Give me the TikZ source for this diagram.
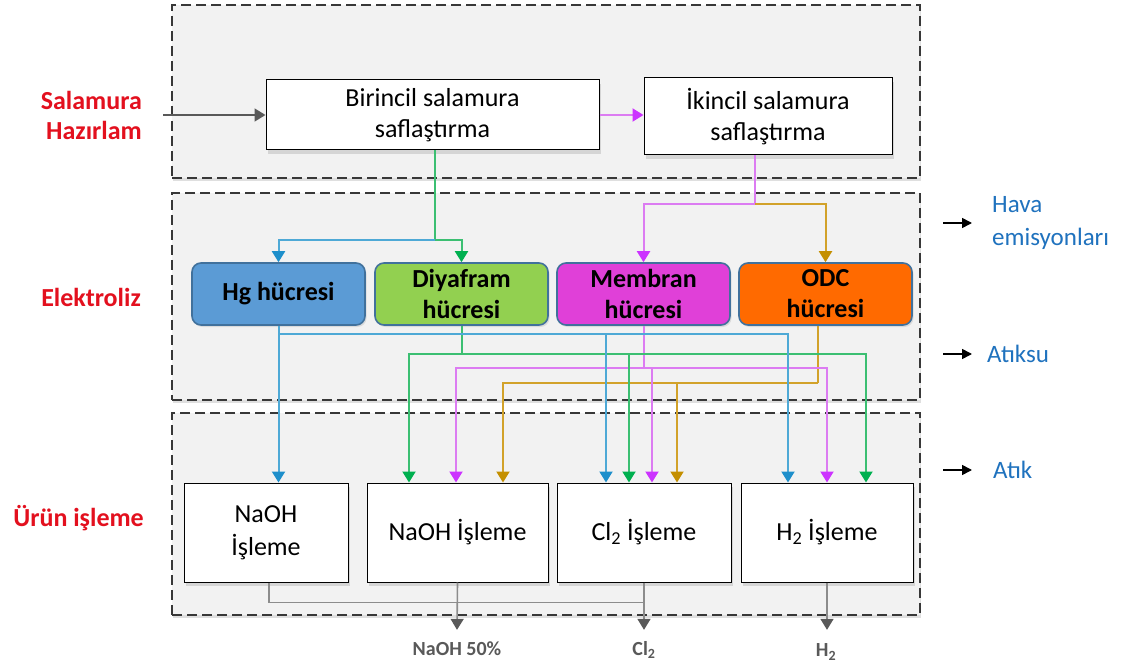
\documentclass[tikz,border=0pt]{standalone}
\usepackage{fontspec}
\setmainfont{Carlito}
\usetikzlibrary{arrows.meta,shadows,calc}
\definecolor{bandfill}{HTML}{F2F2F2}
\definecolor{bandline}{HTML}{383838}
\definecolor{cellline}{HTML}{41719C}
\definecolor{hgc}{HTML}{5B9BD5}
\definecolor{diac}{HTML}{92D050}
\definecolor{memc}{HTML}{E040D8}
\definecolor{odcc}{HTML}{FF6A00}
\definecolor{lblue}{HTML}{4EA9D6}
\definecolor{tblue}{HTML}{1E8FCB}
\definecolor{lgreen}{HTML}{3CBF72}
\definecolor{tgreen}{HTML}{00B050}
\definecolor{lmag}{HTML}{DC7CF2}
\definecolor{tmag}{HTML}{CC33FF}
\definecolor{lgold}{HTML}{D2A22A}
\definecolor{tgold}{HTML}{C48F00}
\definecolor{lgray}{HTML}{8C8C8C}
\definecolor{tgray}{HTML}{595959}
\definecolor{redlbl}{HTML}{E3101E}
\definecolor{bluelbl}{HTML}{1F72BE}
\tikzset{
  band/.style={draw=bandline, fill=bandfill, line width=2.6pt, dash pattern=on 10pt off 5pt,
    inner sep=0pt, drop shadow={opacity=0.25, shadow xshift=1pt, shadow yshift=-3pt}},
  whitebox/.style={draw=black, fill=white, line width=1pt, inner sep=0pt, align=center,
    font=\fontsize{26}{31}\selectfont,
    drop shadow={opacity=0.25, shadow xshift=2pt, shadow yshift=-4pt}},
  cell/.style={draw=cellline, line width=1.6pt, rounded corners=9pt, inner sep=0pt, align=center,
    minimum width=173pt, minimum height=62pt, font=\bfseries\fontsize{26}{31}\selectfont,
    drop shadow={opacity=0.2, shadow xshift=1.5pt, shadow yshift=-2pt}},
  redtxt/.style={text=redlbl, font=\bfseries\fontsize{26}{30}\selectfont, align=right, inner sep=0pt},
  bluetxt/.style={text=bluelbl, font=\fontsize{25}{33}\selectfont, align=left, inner sep=0pt},
  outtxt/.style={text=tgray, font=\bfseries\fontsize{20}{22}\selectfont, inner sep=0pt},
  blu/.style={draw=lblue, line width=2pt, -{Triangle[width=13pt,length=11pt,color=tblue]}},
  grn/.style={draw=lgreen, line width=2pt, -{Triangle[width=13pt,length=11pt,color=tgreen]}},
  mag/.style={draw=lmag, line width=2pt, -{Triangle[width=13pt,length=11pt,color=tmag]}},
  gld/.style={draw=lgold, line width=2pt, -{Triangle[width=13pt,length=11pt,color=tgold]}},
  gry/.style={draw=lgray, line width=1.6pt, -{Triangle[width=13pt,length=11pt,color=tgray]}},
  plain/.style={-},
  blk/.style={draw=black, line width=1.6pt, -{Triangle[width=10pt,length=10pt]}}
}
\begin{document}
\begin{tikzpicture}[x=1pt,y=-1pt]
\useasboundingbox (0,0) rectangle (1124,668);
\fill[white] (0,0) rectangle (1124,668);

% bands
\node[band, minimum width=748pt, minimum height=173pt] (band1) at (546,91.5) {};
\node[band, minimum width=748pt, minimum height=207pt] (band2) at (546,296.5) {};
\node[band, minimum width=748pt, minimum height=202pt] (band3) at (546,514) {};

% top boxes
\node[whitebox, minimum width=333pt, minimum height=70pt] (b1) at (432.5,115) {Birincil salamura\\saflaştırma};
\node[whitebox, minimum width=248pt, minimum height=77pt] (b2) at (768,116.5) {İkincil salamura\\saflaştırma};

% cells
\node[cell, fill=hgc]  (hg)  at (278.5,294) {Hg hücresi};
\node[cell, fill=diac] (dia) at (461.5,294) {Diyafram\\hücresi};
\node[cell, fill=memc] (mem) at (643.5,294) {Membran\\hücresi};
\node[cell, fill=odcc] (odc) at (825.5,294) {ODC\\hücresi};

% product boxes
\node[whitebox, minimum width=164pt, minimum height=99pt, font=\fontsize{26}{33}\selectfont] (na1) at (266,532.5) {NaOH\\İşleme};
\node[whitebox, minimum width=181pt, minimum height=99pt] (na2) at (457.5,532.5) {NaOH İşleme};
\node[whitebox, minimum width=174pt, minimum height=99pt] (cl)  at (644,532.5) {Cl\textsubscript{2} İşleme};
\node[whitebox, minimum width=172pt, minimum height=99pt] (h2)  at (827,532.5) {H\textsubscript{2} İşleme};

% left labels
\node[redtxt, anchor=east] (lab1) at (142,115) {Salamura\\Hazırlam};
\node[redtxt, anchor=east] (lab2) at (141,297) {Elektroliz};
\node[redtxt, anchor=east] (lab3) at (144,518) {Ürün işleme};

% right labels
\node[bluetxt, anchor=west] (hava) at (992,223) {Hava\\emisyonları};
\node[bluetxt, anchor=west] (atiksu) at (987,354) {Atıksu};
\node[bluetxt, anchor=west] (atik) at (993,470) {Atık};
\draw[blk] ([xshift=-49pt]hava.west) -- ([xshift=-20pt]hava.west);
\draw[blk] ([xshift=-44pt]atiksu.west) -- ([xshift=-15pt]atiksu.west);
\draw[blk] ([xshift=-50pt]atik.west) -- ([xshift=-21pt]atik.west);

% output labels
\node[outtxt] (o1) at (457,649) {NaOH 50\%};
\node[outtxt] (o2) at (644,650) {Cl\textsubscript{2}};
\node[outtxt] (o3) at (826,652) {H\textsubscript{2}};

% input arrow
\coordinate (inp) at (163,115);
\draw[gry, draw=tgray] (inp) -- (b1.west);
\draw[mag] (b1.east) -- (b1.east -| b2.west);

% feed to cells
\coordinate (j1) at ($([xshift=2.5pt]b1.south)+(0,90)$);
\draw[grn, plain] ([xshift=2.5pt]b1.south) -- (j1);
\draw[blu] (j1) -| (hg.north);
\draw[grn] (j1) -| (dia.north);
\coordinate (j2) at ($([xshift=-13pt]b2.south)+(0,49)$);
\draw[mag, plain] ([xshift=-13pt]b2.south) -- (j2);
\draw[mag] (j2) -| (mem.north);
\draw[gld] (j2) -| (odc.north);

% target points on product boxes
\coordinate (nB) at ([xshift=12.5pt]na1.north);
\coordinate (cB) at ([xshift=-38pt]cl.north);
\coordinate (hB) at ([xshift=-39pt]h2.north);
\coordinate (nG) at ([xshift=-48.5pt]na2.north);
\coordinate (cG) at ([xshift=-15pt]cl.north);
\coordinate (hG) at ([xshift=39pt]h2.north);
\coordinate (nM) at ([xshift=-1.5pt]na2.north);
\coordinate (cM) at ([xshift=8pt]cl.north);
\coordinate (hM) at (h2.north);
\coordinate (nY) at ([xshift=45.5pt]na2.north);
\coordinate (cY) at ([xshift=33pt]cl.north);

% buses
\coordinate (busB) at ($(hg.south)+(0,8)$);
\coordinate (busG) at ($(dia.south)+(0,28)$);
\coordinate (busM) at ($(mem.south)+(0,42)$);
\coordinate (odcout) at ([xshift=-7.5pt]odc.south);
\coordinate (busY) at ($(odcout)+(0,57)$);

% gold
\draw[gld, plain] (odcout) -- (busY);
\draw[gld] (busY) -| (nY);
\draw[gld] (busY -| cY) -- (cY);
% magenta
\draw[mag, plain] (mem.south) -- (busM);
\draw[mag] (busM) -| (nM);
\draw[mag] (busM) -| (hM);
\draw[mag] (busM -| cM) -- (cM);
% green
\draw[grn, plain] (dia.south) -- (busG);
\draw[grn] (busG) -| (nG);
\draw[grn] (busG) -| (hG);
\draw[grn] (busG -| cG) -- (cG);
% blue
\draw[blu] (hg.south) -- (nB);
\draw[blu] (busB) -| (hB);
\draw[blu] (busB -| cB) -- (cB);

% bottom outputs
\coordinate (bg) at ($([xshift=3pt]na1.south)+(0,20)$);
\draw[gry, plain] ([xshift=3pt]na1.south) -- (bg) -- (bg -| cl.south);
\draw[gry] (na2.south) -- ([yshift=12pt]o1.north);
\draw[gry] (cl.south) -- ([yshift=12pt]o1.north -| cl.south);
\draw[gry] (h2.south) -- ([yshift=12pt]o1.north -| h2.south);
\end{tikzpicture}
\end{document}
